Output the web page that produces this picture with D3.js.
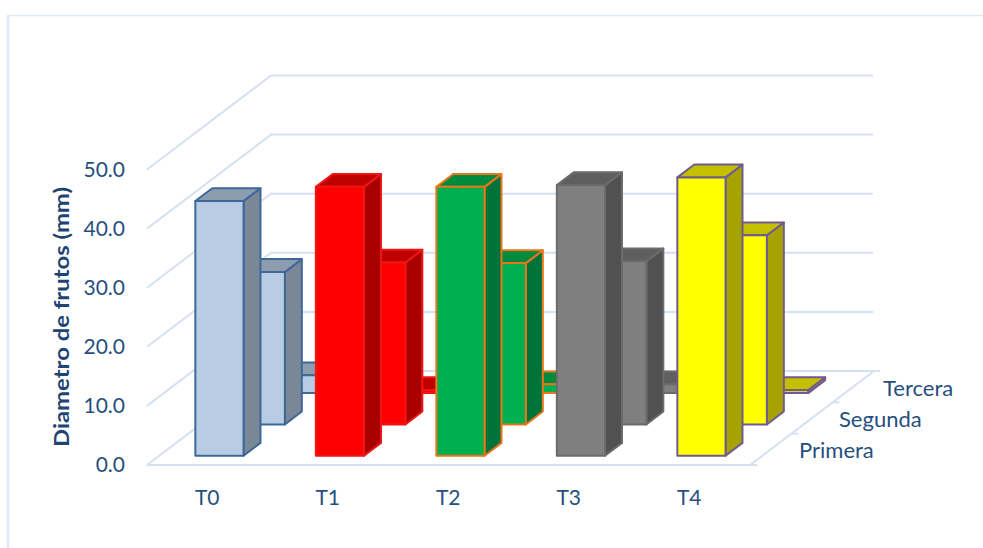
<!DOCTYPE html>
<html>
<head>
<meta charset="utf-8">
<script src="https://cdn.jsdelivr.net/npm/d3@7/dist/d3.min.js"></script>
<style>
html,body{margin:0;padding:0;background:#fff}
svg{display:block}
text{font-family:Lato,"Open Sans",sans-serif}
</style>
</head>
<body>
<div id="chart"></div>
<script>
const categories = ["T0","T1","T2","T3","T4"];
const seriesNames = ["Primera","Segunda","Tercera"];
const primera = [43.1,45.5,45.5,45.8,47.1];
const segunda = [25.8,27.4,27.3,27.6,32.0];
const tercera = [3.0,0.5,1.5,1.5,0.5];
const yTicks = [0,10,20,30,40,50];
const faceColors = ["#b8cce4","#ff0000","#00b050","#7f7f7f","#ffff00"];
const sideColors = ["#7a8796","#a80000","#00733a","#515151","#a6a300"];
const topColors  = ["#8e9cb0","#bf0000","#008a3e","#5f5f5f","#c4c000"];
const strokeColors = ["#3d6899","#f01515","#e8761a","#6b6b6b","#705a90"];

const W = 983, H = 548;
const valuesBySeries = [primera, segunda, tercera];
const gridColor = "#d5e1f2", textColor = "#264f80";

const svg = d3.select("#chart").append("svg").attr("width", W).attr("height", H);

const y = d3.scaleLinear().domain([0,50]).range([465,169.5]);
const x = d3.scaleBand().domain(categories).range([147,749.5]).paddingInner(0.6).paddingOuter(0.3);
const depth = d3.scaleBand().domain(seriesNames).range([0,1]).paddingInner(0.59).paddingOuter(0.295);
const depthX = d3.scaleLinear().domain([0,1]).range([0,124]);
const depthY = d3.scaleLinear().domain([0,1]).range([0,-94]);
const P = (px, py, d) => [px + depthX(d), py + depthY(d)];
const path = pts => "M" + pts.map(p => p.join(",")).join("L") + "Z";
const line = d3.line();

// chart frame
svg.append("path").attr("d", "M8,548V15.5H983").attr("fill","none").attr("stroke","#dfe9f4").attr("stroke-width",1.4);
svg.append("line").attr("x1",8).attr("x2",8).attr("y1",15).attr("y2",548).attr("stroke","#dfe9f4").attr("stroke-width",2.4);

// walls and floor
const grid = svg.append("g").attr("fill","none").attr("stroke",gridColor).attr("stroke-width",2);
yTicks.forEach(t => {
  grid.append("path").attr("d", line([[147,y(t)], P(147,y(t),1), [t === 0 ? 880 : 873, y(t)+depthY(1)]]));
});
grid.append("path").attr("d", line([[147,y(0)],[757,y(0)]]));
grid.append("path").attr("d", line([[750,y(0)], P(750,y(0),1)]));
[1/3,2/3].forEach(d => {
  const p = P(750,y(0),d);
  grid.append("path").attr("d", line([p,[p[0]+7,p[1]]]));
});

// bars, back row first
const bars = svg.append("g").attr("stroke-linejoin","round");
[2,1,0].forEach(si => {
  const name = seriesNames[si];
  const d0 = depth(name), d1 = d0 + depth.bandwidth();
  categories.forEach((c,ci) => {
    const v = valuesBySeries[si][ci];
    const xa = x(c), xb = xa + x.bandwidth(), yb = y(0), yt = y(v);
    const g = bars.append("g").attr("stroke",strokeColors[ci]).attr("stroke-width",2);
    g.append("path").attr("fill",sideColors[ci]).attr("d",path([P(xb,yb,d0),P(xb,yb,d1),P(xb,yt,d1),P(xb,yt,d0)]));
    g.append("path").attr("fill",topColors[ci]).attr("d",path([P(xa,yt,d0),P(xb,yt,d0),P(xb,yt,d1),P(xa,yt,d1)]));
    g.append("path").attr("fill",faceColors[ci]).attr("d",path([P(xa,yb,d0),P(xb,yb,d0),P(xb,yt,d0),P(xa,yt,d0)]));
  });
});

// labels
const fs = 21;
svg.append("g").selectAll("text").data(yTicks).join("text")
  .attr("x",125).attr("y",d => y(d)+7).attr("text-anchor","end")
  .attr("font-size",fs).attr("fill",textColor).text(d => d.toFixed(1));
svg.append("g").selectAll("text").data(categories).join("text")
  .attr("x",d => x(d)+x.bandwidth()/2).attr("y",505).attr("text-anchor","middle")
  .attr("font-size",fs).attr("fill",textColor).text(d => d);
svg.append("g").selectAll("text").data(seriesNames).join("text")
  .attr("x",(d,i) => [799,839,883][i]).attr("y",(d,i) => [458,427,396][i])
  .attr("font-size",22).attr("fill",textColor).text(d => d);
svg.append("text").attr("transform","translate(69,317) rotate(-90)").attr("text-anchor","middle")
  .attr("font-size",20.5).attr("font-weight",700).attr("fill","#1f4474")
  .attr("textLength",260).attr("lengthAdjust","spacingAndGlyphs").text("Diametro de frutos (mm)");
</script>
</body>
</html>
